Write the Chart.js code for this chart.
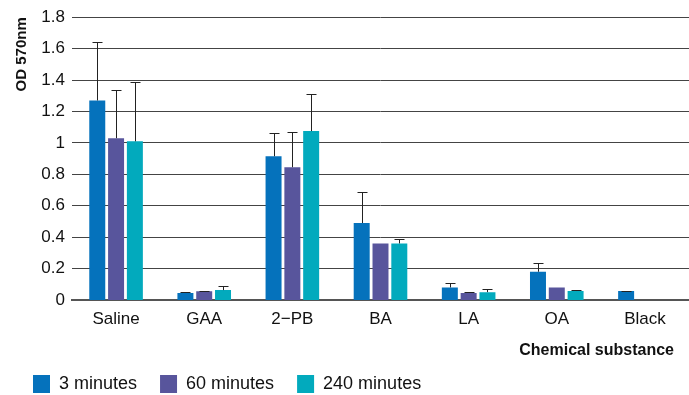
<!DOCTYPE html>
<html lang="en">
<head>
  <meta charset="UTF-8">
  <title>OD 570nm by chemical substance</title>
  <script src="https://cdn.jsdelivr.net/npm/chart.js"></script>
  <style>
    html, body { margin: 0; padding: 0; background: #fff; }
    .wrap { width: 689px; height: 395px; }
  </style>
</head>
<body>
  <div class="wrap">
    <canvas id="grafico"></canvas>
  </div>
<script>
  // categories and tick labels
  const substances = ['Saline', 'GAA', '2\u2212PB', 'BA', 'LA', 'OA', 'Black'];
  const seriesNames = ['3 minutes', '60 minutes', '240 minutes'];

  // mean OD values
  const min3 = [1.27, 0.045, 0.915, 0.49, 0.08, 0.18, 0.057];
  const min60 = [1.03, 0.055, 0.845, 0.36, 0.045, 0.08, null];
  const min240 = [1.01, 0.063, 1.075, 0.36, 0.05, 0.057, null];

  // upper error (SD) for each bar
  const err3 = [0.37, 0.005, 0.145, 0.2, 0.03, 0.055, 0.003];
  const err60 = [0.305, 0.004, 0.225, 0, 0.003, 0, null];
  const err240 = [0.375, 0.027, 0.235, 0.03, 0.02, 0.006, null];

  const cores = ['#0572bc', '#58559c', '#02aabd'];
  const fonte = "'Liberation Sans', Arial, sans-serif";

  // draws the upper error whiskers over each bar
  const errorBars = {
    id: 'errorBars',
    afterDatasetsDraw(chart) {
      const ctx = chart.ctx;
      const y = chart.scales.y;
      ctx.save();
      ctx.strokeStyle = '#222';
      ctx.lineWidth = 1;
      chart.data.datasets.forEach((ds, i) => {
        const meta = chart.getDatasetMeta(i);
        meta.data.forEach((bar, j) => {
          const e = ds.errors[j];
          const v = ds.data[j];
          if (v == null || !e) return;
          const top = Math.round(y.getPixelForValue(v + e)) + 0.5;
          const x = Math.round(bar.x) + 0.5;
          ctx.beginPath();
          ctx.moveTo(x, bar.y);
          ctx.lineTo(x, top);
          ctx.moveTo(x - 5, top);
          ctx.lineTo(x + 5, top);
          ctx.stroke();
        });
      });
      ctx.restore();
    }
  };

  // axis title at bottom right
  const xTitle = {
    id: 'xTitle',
    afterDraw(chart) {
      const ctx = chart.ctx;
      ctx.save();
      ctx.font = "bold 16px " + fonte;
      ctx.fillStyle = '#111';
      ctx.textAlign = 'right';
      ctx.textBaseline = 'middle';
      ctx.fillText('Chemical substance', 674, 351);
      ctx.restore();
    }
  };

  const ctx1 = document.getElementById('grafico');

  new Chart(ctx1, {
    type: 'bar',
    data: {
      labels: substances,
      datasets: [
        { label: seriesNames[0], data: min3, errors: err3, backgroundColor: cores[0] },
        { label: seriesNames[1], data: min60, errors: err60, backgroundColor: cores[1] },
        { label: seriesNames[2], data: min240, errors: err240, backgroundColor: cores[2] }
      ]
    },
    options: {
      responsive: true,
      maintainAspectRatio: false,
      animation: false,
      categoryPercentage: 0.64,
      barPercentage: 0.85,
      layout: { padding: { left: 10, top: 15, right: 0, bottom: -8 } },
      plugins: {
        tooltip: { enabled: false },
        legend: {
          position: 'bottom',
          align: 'start',
          labels: {
            boxWidth: 17,
            boxHeight: 18,
            padding: 23,
            color: '#111',
            font: { family: fonte, size: 18 }
          }
        }
      },
      scales: {
        x: {
          grid: { display: false },
          border: { display: true, color: '#555', width: 2 },
          ticks: { color: '#111', padding: 1, font: { family: fonte, size: 17 } },
          afterFit(scale) { scale.height = 52; }
        },
        y: {
          min: 0,
          max: 1.8,
          border: { display: false },
          grid: {
            color: '#444',
            lineWidth: (c) => c.tick && c.tick.value === 0 ? 0 : 1,
            drawTicks: false
          },
          ticks: {
            stepSize: 0.2,
            color: '#111',
            padding: 7,
            font: { family: fonte, size: 17 },
            callback: (v) => String(Number(v.toFixed(1)))
          },
          title: {
            display: true,
            text: 'OD 570nm',
            align: 'end',
            color: '#111',
            padding: { top: 3, bottom: 0 },
            font: { family: fonte, size: 15, weight: 'bold' }
          },
          afterFit(scale) { scale.width = 62; }
        }
      }
    },
    plugins: [errorBars, xTitle]
  });
</script>
</body>
</html>
